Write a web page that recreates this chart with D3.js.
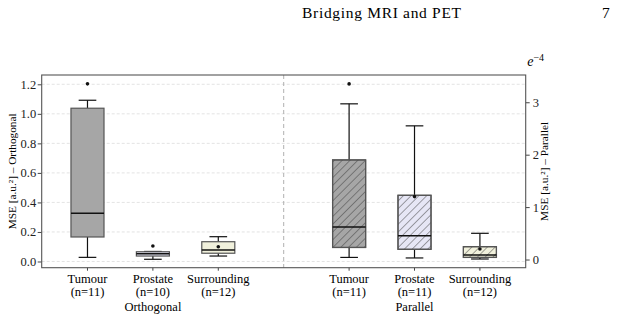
<!DOCTYPE html>
<html>
<head>
<meta charset="utf-8">
<script src="https://cdn.jsdelivr.net/npm/d3@7"></script>
<style>
    body { margin: 0; background: #fff; }
    svg text { font-family: 'Liberation Serif', 'Times New Roman', Times, serif; }
</style>
</head>
<body>
<div id="chart"></div>
<script>
// categories
const tissues = ["Tumour", "Prostate", "Surrounding"];
const planes = ["Orthogonal", "Parallel"];
const orthoCounts = [11, 10, 12];
const paraCounts = [11, 11, 12];

// orthogonal, MSE [a.u.^2]
const orthoLow = [0.028, 0.015, 0.037];
const orthoQ1 = [0.166, 0.037, 0.056];
const orthoMedian = [0.327, 0.053, 0.078];
const orthoQ3 = [1.038, 0.066, 0.134];
const orthoHigh = [1.092, 0.068, 0.168];
const orthoMean = [1.203, 0.105, 0.100];

// parallel, MSE [a.u.^2] in units of e-4
const paraLow = [0.04, 0.03, 0.01];
const paraQ1 = [0.23, 0.195, 0.04];
const paraMedian = [0.62, 0.455, 0.085];
const paraQ3 = [1.90, 1.225, 0.245];
const paraHigh = [2.97, 2.55, 0.50];
const paraMean = [3.35, 1.20, 0.20];

const leftTicks = [0, 0.2, 0.4, 0.6, 0.8, 1.0, 1.2];
const rightTicks = [0, 1, 2, 3];

const fills = ["#a6a6a6", "#e6e6f5", "#f1f1dc"];

const SERIF = "'Liberation Serif', 'Times New Roman', Times, serif";

class BoxChart {
    constructor(parentElement) {
        this.parentElement = parentElement;
        this.initVis();
    }

    initVis() {
        let vis = this;

        const WIDTH = 630;
        const HEIGHT = 321;

        vis.margin = {top: 75, right: 104.3, bottom: 53.3, left: 41.7};
        vis.width = WIDTH - vis.margin.left - vis.margin.right;
        vis.height = HEIGHT - vis.margin.top - vis.margin.bottom;

        vis.root = d3.select("#" + vis.parentElement).append("svg")
            .attr("width", WIDTH)
            .attr("height", HEIGHT)
            .attr("font-family", SERIF);

        // page header
        vis.root.append("text")
            .attr("x", 302).attr("y", 17.5)
            .attr("font-size", 15.5)
            .attr("textLength", 159)
            .text("Bridging MRI and PET");
        vis.root.append("text")
            .attr("x", 602).attr("y", 17.5)
            .attr("font-size", 15.5)
            .text("7");

        // hatch for parallel boxes
        vis.root.append("defs").append("pattern")
            .attr("id", "hatch")
            .attr("patternUnits", "userSpaceOnUse")
            .attr("width", 5.5).attr("height", 5.5)
            .attr("patternTransform", "rotate(45)")
            .append("line")
            .attr("x1", 0).attr("y1", 0).attr("x2", 0).attr("y2", 5.5)
            .attr("stroke", "#3a3a3a").attr("stroke-width", 0.9);

        vis.svg = vis.root.append("g")
            .attr("transform", "translate(" + vis.margin.left + "," + vis.margin.top + ")");

        // scales
        vis.x = d3.scaleLinear().domain([-0.7, 6.7]).range([0, vis.width]);
        vis.yL = d3.scaleLinear().domain([-0.042, 1.263]).range([vis.height, 0]);
        vis.yR = d3.scaleLinear().domain([-0.156, 3.52]).range([vis.height, 0]);

        vis.boxW = vis.x(0.505) - vis.x(0);
        vis.capW = vis.x(0.27) - vis.x(0);

        // grid
        vis.svg.selectAll(".grid").data(leftTicks).enter().append("line")
            .attr("class", "grid")
            .attr("x1", 0).attr("x2", vis.width)
            .attr("y1", d => vis.yL(d)).attr("y2", d => vis.yL(d))
            .attr("stroke", "#dcdcdc").attr("stroke-width", 0.8)
            .attr("stroke-dasharray", "3,2");

        // divider
        vis.svg.append("line")
            .attr("x1", vis.x(3)).attr("x2", vis.x(3))
            .attr("y1", 0).attr("y2", vis.height)
            .attr("stroke", "#b0b0b0").attr("stroke-width", 1)
            .attr("stroke-dasharray", "4,3");

        // axes
        vis.yAxisL = d3.axisLeft(vis.yL).tickValues(leftTicks).tickSize(4).tickFormat(d3.format(".1f"));
        vis.yAxisR = d3.axisRight(vis.yR).tickValues(rightTicks).tickSize(4).tickFormat(d3.format("d"));

        vis.svg.append("g").attr("class", "y-axis-left").call(vis.yAxisL);
        vis.svg.append("g").attr("class", "y-axis-right")
            .attr("transform", "translate(" + vis.width + ",0)")
            .call(vis.yAxisR);

        vis.svg.selectAll(".y-axis-left, .y-axis-right")
            .attr("font-family", SERIF)
            .select(".domain").remove();
        vis.svg.selectAll(".y-axis-left text, .y-axis-right text")
            .attr("font-size", 12.5)
            .attr("fill", "#222");
        vis.svg.selectAll(".y-axis-left line, .y-axis-right line").attr("stroke", "#444");
        vis.svg.selectAll(".y-axis-left text").attr("x", -5.5);
        vis.svg.selectAll(".y-axis-right text").attr("x", 7);

        // x ticks under the frame
        vis.positions = [0, 1, 2, 4, 5, 6];
        vis.svg.selectAll(".xtick").data(vis.positions).enter().append("line")
            .attr("class", "xtick")
            .attr("x1", d => vis.x(d)).attr("x2", d => vis.x(d))
            .attr("y1", vis.height).attr("y2", vis.height + 3)
            .attr("stroke", "#444");

        // frame
        vis.svg.append("rect")
            .attr("width", vis.width).attr("height", vis.height)
            .attr("fill", "none").attr("stroke", "#555").attr("stroke-width", 1.1);

        // axis titles
        vis.svg.append("text")
            .attr("transform", "translate(" + (-25.9) + "," + (vis.height / 2) + ") rotate(-90)")
            .attr("text-anchor", "middle")
            .attr("font-size", 11.3)
            .text("MSE [a.u.²] – Orthogonal");
        vis.svg.append("text")
            .attr("transform", "translate(" + (vis.width + 22.6) + "," + (vis.height / 2) + ") rotate(-90)")
            .attr("text-anchor", "middle")
            .attr("font-size", 11.3)
            .text("MSE [a.u.²] – Parallel");

        // exponent label
        let ex = vis.svg.append("text")
            .attr("x", vis.width + 1.5).attr("y", -9)
            .attr("font-size", 14);
        ex.append("tspan").attr("font-style", "italic").text("e");
        ex.append("tspan").attr("dy", -5).attr("font-size", 10).text("−4");

        vis.wrangleData();
    }

    wrangleData() {
        let vis = this;

        vis.displayData = [];
        tissues.forEach((t, i) => {
            vis.displayData.push({
                pos: i, tissue: t, n: orthoCounts[i], plane: planes[0], scale: vis.yL,
                low: orthoLow[i], q1: orthoQ1[i], median: orthoMedian[i], q3: orthoQ3[i],
                high: orthoHigh[i], mean: orthoMean[i], fill: fills[i], hatch: false
            });
        });
        tissues.forEach((t, i) => {
            vis.displayData.push({
                pos: i + 4, tissue: t, n: paraCounts[i], plane: planes[1], scale: vis.yR,
                low: paraLow[i], q1: paraQ1[i], median: paraMedian[i], q3: paraQ3[i],
                high: paraHigh[i], mean: paraMean[i], fill: fills[i], hatch: true
            });
        });

        vis.updateVis();
    }

    updateVis() {
        let vis = this;

        const boxes = vis.svg.selectAll(".box").data(vis.displayData)
            .enter().append("g")
            .attr("class", "box")
            .attr("transform", d => "translate(" + vis.x(d.pos) + ",0)");

        // whiskers
        boxes.append("line")
            .attr("x1", 0).attr("x2", 0)
            .attr("y1", d => d.scale(d.high)).attr("y2", d => d.scale(d.q3))
            .attr("stroke", "#111").attr("stroke-width", 1.2);
        boxes.append("line")
            .attr("x1", 0).attr("x2", 0)
            .attr("y1", d => d.scale(d.low)).attr("y2", d => d.scale(d.q1))
            .attr("stroke", "#111").attr("stroke-width", 1.2);
        boxes.selectAll(".cap").data(d => [d.low, d.high].map(v => d.scale(v)))
            .enter().append("line")
            .attr("class", "cap")
            .attr("x1", -vis.capW / 2).attr("x2", vis.capW / 2)
            .attr("y1", d => d).attr("y2", d => d)
            .attr("stroke", "#111").attr("stroke-width", 1.2);

        // box body
        boxes.append("rect")
            .attr("x", -vis.boxW / 2).attr("width", vis.boxW)
            .attr("y", d => d.scale(d.q3))
            .attr("height", d => d.scale(d.q1) - d.scale(d.q3))
            .attr("fill", d => d.fill)
            .attr("stroke", "#555").attr("stroke-width", 1.2);
        boxes.filter(d => d.hatch).append("rect")
            .attr("x", -vis.boxW / 2).attr("width", vis.boxW)
            .attr("y", d => d.scale(d.q3))
            .attr("height", d => d.scale(d.q1) - d.scale(d.q3))
            .attr("fill", "url(#hatch)")
            .attr("stroke", "#555").attr("stroke-width", 1.2);

        // median
        boxes.append("line")
            .attr("x1", -vis.boxW / 2).attr("x2", vis.boxW / 2)
            .attr("y1", d => d.scale(d.median)).attr("y2", d => d.scale(d.median))
            .attr("stroke", "#111").attr("stroke-width", 1.5);

        // mean marker
        boxes.append("circle")
            .attr("cx", 0).attr("cy", d => d.scale(d.mean))
            .attr("r", 1.8).attr("fill", "#111");

        // category labels
        boxes.append("text")
            .attr("y", vis.height + 15)
            .attr("text-anchor", "middle")
            .attr("font-size", 12.5)
            .text(d => d.tissue);
        boxes.append("text")
            .attr("y", vis.height + 28.3)
            .attr("text-anchor", "middle")
            .attr("font-size", 12.5)
            .text(d => "(n=" + d.n + ")");

        // plane labels under the middle category
        vis.svg.selectAll(".plane").data(planes).enter().append("text")
            .attr("class", "plane")
            .attr("x", (d, i) => vis.x(i * 4 + 1))
            .attr("y", vis.height + 43)
            .attr("text-anchor", "middle")
            .attr("font-size", 12.5)
            .text(d => d);
    }
}

new BoxChart("chart");
</script>
</body>
</html>
